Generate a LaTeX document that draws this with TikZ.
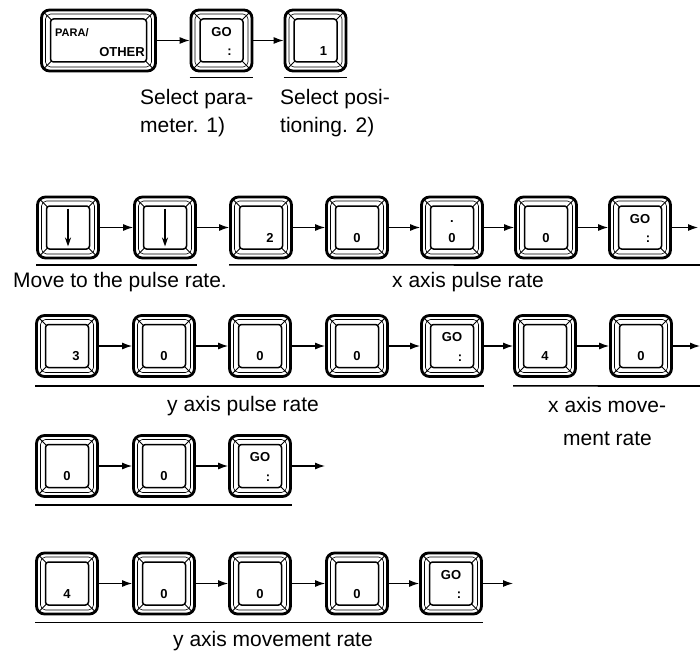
\documentclass[tikz,border=0pt]{standalone}
\usepackage{fontspec}
\setmainfont{Liberation Sans}
\usetikzlibrary{arrows.meta,calc}
\newcommand\ppb{path picture bounding box}
\newcommand\dkey[5]{\node[keybox] (#1) at (#2,#3) {}; \node[legend] (#1t) at ([shift={(#5pt,-10.5pt)}]#1.center) {#4};}
\newcommand\gokey[3]{\node[keybox] (#1) at (#2,#3) {}; \node[legend] (#1g) at ([shift={(0pt,8.5pt)}]#1.center) {GO}; \node[legend] (#1c) at ([shift={(8pt,-12pt)}]#1.center) {:};}
\newcommand\downkey[3]{\node[keybox] (#1) at (#2,#3) {}; \draw[line width=1.5pt,-{Stealth[length=9pt,width=6pt]}] ([yshift=19pt]#1.center) -- ([yshift=-19pt]#1.center);}
\begin{document}
\begin{tikzpicture}[x=1pt,y=-1pt,
 keybox/.style={draw, line width=2.8pt, rounded corners=8pt, minimum width=61pt, minimum height=61pt, inner sep=0pt,
  path picture={
   \draw[line width=0.6pt, rounded corners=5pt] ([shift={(4pt,4pt)}]\ppb.south west) rectangle ([shift={(-4pt,-4pt)}]\ppb.north east);
   \draw[line width=1.5pt, rounded corners=3pt] ([shift={(9pt,9pt)}]\ppb.south west) rectangle ([shift={(-9pt,-9pt)}]\ppb.north east);
   \draw[line width=1pt] ([shift={(2pt,2pt)}]\ppb.south west) -- ([shift={(10pt,10pt)}]\ppb.south west);
   \draw[line width=1pt] ([shift={(-2pt,2pt)}]\ppb.south east) -- ([shift={(-10pt,10pt)}]\ppb.south east);
   \draw[line width=1pt] ([shift={(2pt,-2pt)}]\ppb.north west) -- ([shift={(10pt,-10pt)}]\ppb.north west);
   \draw[line width=1pt] ([shift={(-2pt,-2pt)}]\ppb.north east) -- ([shift={(-10pt,-10pt)}]\ppb.north east);
  }},
 legend/.style={font=\fontsize{13}{13}\selectfont\bfseries, inner sep=0pt},
 conn/.style={line width=1.2pt, -{Latex[length=10pt,width=7pt]}},
 uline/.style={line width=1.6pt},
 lab/.style={font=\fontsize{21}{24}\selectfont, inner sep=0pt, anchor=base west}
]
\useasboundingbox (0,0) rectangle (700,655);

% Row 1
\node[keybox, minimum width=114pt] (para) at (98.5,40.5) {};
\node[legend, anchor=west, font=\fontsize{11}{11}\selectfont\bfseries] (parat) at ([shift={(-43.5pt,7.5pt)}]para.center) {PARA/};
\node[legend, anchor=east] (parab) at ([shift={(46.5pt,-11.5pt)}]para.center) {OTHER};
\gokey{go1}{221.5}{40.5}
\dkey{one}{315.5}{40.5}{1}{8}
\draw[conn] (para) -- (go1);
\draw[conn] (go1) -- (one);
\draw[uline] ([yshift=-5pt]go1.south west) -- ([yshift=-5pt]go1.south east);
\draw[uline] ([yshift=-5pt]one.south west) -- ([yshift=-5pt]one.south east);
\node[lab] (s1a) at (140,105) {Select para-};
\node[lab] (s1b) at (140,132) {meter. 1)};
\node[lab] (s2a) at (280,105) {Select posi-};
\node[lab] (s2b) at (280,132) {tioning. 2)};

% Row 2
\downkey{k21}{68}{227.5}
\downkey{k22}{165}{227.5}
\dkey{k23}{261}{227.5}{2}{9}
\dkey{k24}{357}{227.5}{0}{0}
\node[keybox] (k25) at (452,227.5) {};
\node[legend] (k25d) at ([shift={(0pt,5.5pt)}]k25.center) {.};
\node[legend] (k25t) at ([shift={(0pt,-10.5pt)}]k25.center) {0};
\dkey{k26}{546}{227.5}{0}{0}
\gokey{k27}{640}{227.5}
\coordinate (e2) at (698,227.5);
\draw[conn] (k21) -- (k22);
\draw[conn] (k22) -- (k23);
\draw[conn] (k23) -- (k24);
\draw[conn] (k24) -- (k25);
\draw[conn] (k25) -- (k26);
\draw[conn] (k26) -- (k27);
\draw[conn] (k27) -- (e2);
\coordinate (u2) at (700,265);
\draw[uline] ([yshift=-5.5pt]k21.south west) -- ([yshift=-5.5pt]k22.south east);
\draw[uline] ([yshift=-5.5pt]k23.south west) -- (u2);
\node[lab] (l2a) at (13,287) {Move to the pulse rate.};
\node[lab] (l2b) at (392,287) {x axis pulse rate};

% Row 3
\dkey{k31}{67}{346}{3}{9}
\dkey{k32}{164}{346}{0}{0}
\dkey{k33}{260}{346}{0}{0}
\dkey{k34}{357}{346}{0}{0}
\gokey{k35}{452}{346}
\dkey{k36}{545}{346}{4}{0}
\dkey{k37}{641}{346}{0}{0}
\coordinate (e3) at (700,346);
\draw[conn] (k31) -- (k32);
\draw[conn] (k32) -- (k33);
\draw[conn] (k33) -- (k34);
\draw[conn] (k34) -- (k35);
\draw[conn] (k35) -- (k36);
\draw[conn] (k36) -- (k37);
\draw[conn] (k37) -- (e3);
\coordinate (u3) at (700,386);
\draw[uline] ([yshift=-8pt]k31.south west) -- ([yshift=-8pt]k35.south east);
\draw[uline] ([yshift=-8pt]k36.south west) -- (u3);
\node[lab] (l3a) at (167,411) {y axis pulse rate};
\node[lab] (l3b) at (548,412) {x axis move-};
\node[lab] (l3c) at (563,445) {ment rate};

% Row 4
\dkey{k41}{67}{466}{0}{0}
\dkey{k42}{164}{466}{0}{0}
\gokey{k43}{260}{466}
\coordinate (e4) at (325,466);
\draw[conn] (k41) -- (k42);
\draw[conn] (k42) -- (k43);
\draw[conn] (k43) -- (e4);
\draw[uline] ([yshift=-7pt]k41.south west) -- ([yshift=-7pt]k43.south east);

% Row 5
\dkey{k51}{67}{583.5}{4}{0}
\dkey{k52}{164}{583.5}{0}{0}
\dkey{k53}{260}{583.5}{0}{0}
\dkey{k54}{357}{583.5}{0}{0}
\gokey{k55}{451}{583.5}
\coordinate (e5) at (513,583.5);
\draw[conn] (k51) -- (k52);
\draw[conn] (k52) -- (k53);
\draw[conn] (k53) -- (k54);
\draw[conn] (k54) -- (k55);
\draw[conn] (k55) -- (e5);
\draw[uline] ([yshift=-7pt]k51.south west) -- ([yshift=-7pt]k55.south east);
\node[lab] (l5a) at (173,646) {y axis movement rate};
\end{tikzpicture}
\end{document}
